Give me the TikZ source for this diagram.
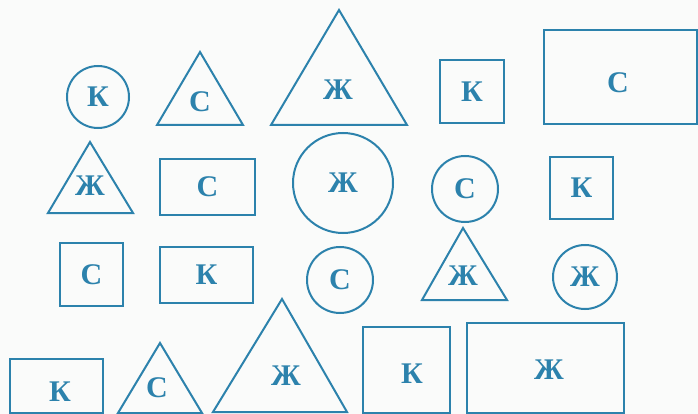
\documentclass[tikz,border=0pt]{standalone}
\usepackage{fontspec}
\setmainfont{Liberation Serif}
\definecolor{shapeblue}{RGB}{44,130,172}
\definecolor{paper}{RGB}{250,251,250}
\tikzset{
  fig/.style={draw=shapeblue, line width=2pt},
  lbl/.style={text=shapeblue, font=\fontsize{30}{30}\selectfont\bfseries, inner sep=0pt},
  circnode/.style={fig, lbl, circle, minimum size=#1},
  boxnode/.style={fig, lbl, rectangle, minimum width=#1},
  boxh/.style={minimum height=#1},
}
\begin{document}
\begin{tikzpicture}[x=1pt,y=-1pt]
\fill[paper] (0,0) rectangle (698,414);
\useasboundingbox (0,0) rectangle (698,414);
% Row 1
\node[circnode=62pt] (c1) at (98,97) {К};
\draw[fig] (200,52) -- (243,125) -- (157,125) -- cycle;
\node[lbl] (t1) at (200,102) {С};
\draw[fig] (339,10) -- (407,125) -- (271,125) -- cycle;
\node[lbl] (t2) at (338,90) {Ж};
\node[boxnode=64pt, boxh=63pt] (r1) at (472,92) {К};
\node[boxnode=153pt, boxh=94pt] (r2) at (620.5,77) {};
\node[lbl] (l2) at (618,83) {С};
% Row 2
\draw[fig] (90,142) -- (133,213) -- (48,213) -- cycle;
\node[lbl] (t3) at (90,186) {Ж};
\node[boxnode=95pt, boxh=56pt] (r3) at (207.5,187) {С};
\node[circnode=100pt] (c2) at (343,183) {Ж};
\node[circnode=66pt] (c3) at (465,189) {С};
\node[boxnode=63pt, boxh=62pt] (r4) at (581.5,188) {К};
% Row 3
\node[boxnode=63pt, boxh=63pt] (r5) at (91.5,274.5) {С};
\node[boxnode=93pt, boxh=56pt] (r6) at (206.5,275) {К};
\node[circnode=66pt] (c4) at (340,280) {С};
\draw[fig] (463,228) -- (507,300) -- (422,300) -- cycle;
\node[lbl] (t4) at (463,276) {Ж};
\node[circnode=64pt] (c5) at (585,277) {Ж};
% Row 4
\node[boxnode=93pt, boxh=54pt] (r7) at (56.5,386) {};
\node[lbl] (l7) at (60,392) {К};
\draw[fig] (160,343) -- (202,413) -- (118,413) -- cycle;
\node[lbl] (t5) at (157,388) {С};
\draw[fig] (282,299) -- (347,412) -- (213,412) -- cycle;
\node[lbl] (t6) at (286,376) {Ж};
\node[boxnode=87pt, boxh=86pt] (r8) at (406.5,370) {};
\node[lbl] (l8) at (412,374) {К};
\node[boxnode=157pt, boxh=90pt] (r9) at (545.5,368) {};
\node[lbl] (l9) at (549,370) {Ж};
\end{tikzpicture}
\end{document}
